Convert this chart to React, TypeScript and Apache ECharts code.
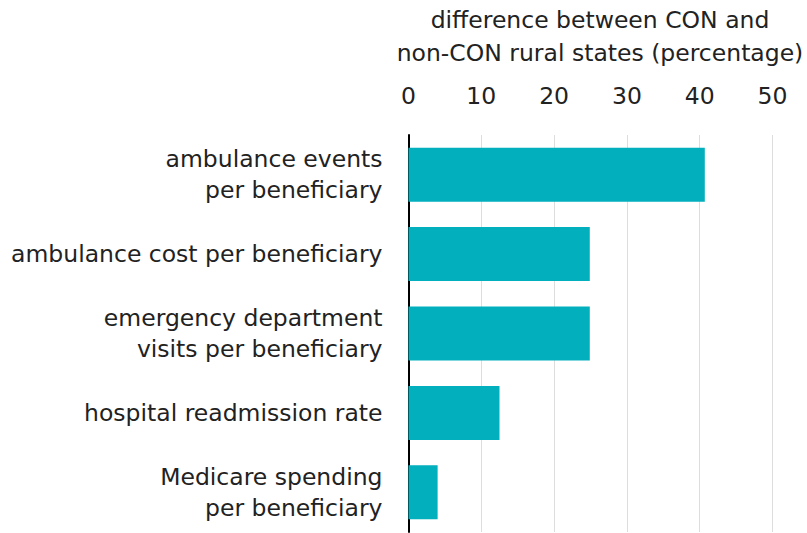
import React, { useEffect, useRef } from "react";
import * as echarts from "echarts";

const categories = [
  "ambulance events\nper beneficiary",
  "ambulance cost per beneficiary",
  "emergency department\nvisits per beneficiary",
  "hospital readmission rate",
  "Medicare spending\nper beneficiary",
];
const values = [40.7, 24.9, 24.9, 12.5, 4.0];
const axisTitle = "difference between CON and\nnon-CON rural states (percentage)";

const FONT = "'DejaVu Sans', sans-serif";

export default function App() {
  const ref = useRef<HTMLDivElement>(null);
  useEffect(() => {
    if (!ref.current) return;
    const chart = echarts.init(ref.current, undefined, { renderer: "svg" });
    chart.setOption({
      animation: false,
      textStyle: { fontFamily: FONT },
      grid: { left: 408.5, right: 34.5, top: 135, bottom: 1, containLabel: false },
      graphic: [
        {
          type: "text",
          x: 600,
          y: 3,
          style: {
            text: axisTitle,
            textAlign: "center",
            fill: "#222",
            font: `23.5px ${FONT}`,
            lineHeight: 33,
          },
        },
      ],
      xAxis: {
        type: "value",
        position: "top",
        min: 0,
        max: 50,
        interval: 10,
        axisLine: { show: false },
        axisTick: { show: false },
        axisLabel: { color: "#222", fontSize: 23.5, margin: 27, fontFamily: FONT },
        splitLine: { show: true, lineStyle: { color: "#dddddd", width: 1 } },
      },
      yAxis: {
        type: "category",
        data: categories,
        inverse: true,
        axisLine: { show: true, lineStyle: { color: "#000", width: 2 } },
        axisTick: { show: false },
        axisLabel: {
          color: "#222",
          fontSize: 23.5,
          lineHeight: 31,
          margin: 26,
          fontFamily: FONT,
        },
      },
      series: [
        {
          type: "bar",
          data: values,
          barCategoryGap: "32%",
          itemStyle: { color: "#02AFBC" },
        },
      ],
    });
    return () => chart.dispose();
  }, []);
  return (
    <div
      ref={ref}
      style={{ position: "fixed", left: 0, top: 0, width: 807, height: 533, background: "#fff" }}
    />
  );
}
